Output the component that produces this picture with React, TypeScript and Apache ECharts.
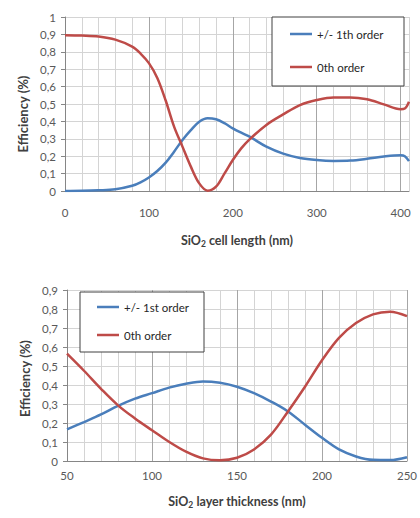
import React, { useEffect, useRef } from "react";
import * as echarts from "echarts";

// Top chart: SiO2 cell length (nm)
const topLength = [0, 20, 40, 60, 80, 90, 100, 110, 120, 130, 140, 150, 160, 170, 180, 190, 200, 210, 220, 240, 260, 280, 300, 320, 340, 360, 380, 400, 405, 410];
const topFirstOrder = [0, 0.001, 0.004, 0.01, 0.03, 0.05, 0.078, 0.115, 0.163, 0.226, 0.293, 0.35, 0.398, 0.418, 0.412, 0.39, 0.36, 0.335, 0.312, 0.255, 0.215, 0.19, 0.178, 0.173, 0.175, 0.185, 0.198, 0.205, 0.2, 0.172];
const topZeroOrder = [0.895, 0.893, 0.888, 0.87, 0.83, 0.79, 0.735, 0.65, 0.52, 0.37, 0.255, 0.14, 0.044, 0.002, 0.025, 0.1, 0.178, 0.245, 0.297, 0.38, 0.44, 0.494, 0.523, 0.538, 0.538, 0.527, 0.498, 0.47, 0.474, 0.513];

// Bottom chart: SiO2 layer thickness (nm)
const bottomThickness = [50, 60, 70, 80, 90, 100, 110, 120, 130, 140, 150, 160, 170, 180, 190, 200, 210, 220, 230, 240, 250];
const bottomFirstOrder = [0.166, 0.205, 0.245, 0.29, 0.328, 0.357, 0.386, 0.407, 0.419, 0.412, 0.391, 0.357, 0.313, 0.261, 0.191, 0.122, 0.061, 0.024, 0.006, 0.005, 0.02];
const bottomZeroOrder = [0.565, 0.475, 0.38, 0.293, 0.224, 0.162, 0.101, 0.049, 0.014, 0.004, 0.017, 0.061, 0.139, 0.261, 0.391, 0.53, 0.648, 0.726, 0.772, 0.786, 0.762];

const topLegend = ["+/- 1th order", "0th order"];
const bottomLegend = ["+/- 1st order", "0th order"];

const BLUE = "#4a7ebb";
const RED = "#be4b48";
const FONT = "Lato";
const MINOR = "#d4d4d4";
const MAJOR = "#a6a6a6";
const LEGEND_ICON = "path://M0,0 L22,0 L22,2.5 L0,2.5 Z";

const zip = (xs: number[], ys: number[]) => xs.map((x, i) => [x, ys[i]]);
const yFmt = (v: number) => (v === 0 ? "0" : v === 1 ? "1" : v.toFixed(1).replace(".", ","));

export default function App() {
  const ref = useRef<HTMLDivElement>(null);
  useEffect(() => {
    if (!ref.current) return;
    const chart = echarts.init(ref.current, null, { renderer: "svg" });
    const titleStyle = {
      fontFamily: FONT,
      fontWeight: "bold" as const,
      fontSize: 12.5,
      color: "#404040",
      rich: {
        sub: { fontFamily: FONT, fontWeight: "bold" as const, fontSize: 8.5, color: "#404040", verticalAlign: "bottom" as const, padding: [6, 0, 0, 0] },
      },
    };
    const labelStyle = { fontFamily: FONT, fontSize: 11.5, color: "#595959" };
    const xAxisCommon = (min: number, max: number, interval: number, major: number, margin: number, name: string, gap: number, gridIndex: number) => ({
      type: "value" as const,
      gridIndex,
      min,
      max,
      interval,
      name,
      nameLocation: "middle" as const,
      nameGap: gap,
      nameTextStyle: titleStyle,
      axisLine: { show: true, onZero: false, lineStyle: { color: "#868686", width: 1 } },
      axisTick: { show: false },
      axisLabel: {
        ...labelStyle,
        margin,
        showMaxLabel: true,
        formatter: (v: number) => (Math.abs(v % major) < 1e-6 ? String(v) : ""),
      },
      splitLine: {
        show: true,
        lineStyle: { color: [MAJOR, MINOR, MINOR, MINOR, MINOR], width: 1 },
      },
    });
    const yAxisCommon = (max: number, gap: number, gridIndex: number, pad: number[]) => ({
      type: "value" as const,
      gridIndex,
      min: 0,
      max,
      interval: 0.1,
      name: "Efficiency (%)",
      nameLocation: "middle" as const,
      nameGap: gap,
      nameTextStyle: { ...titleStyle, fontSize: 13, padding: pad },
      axisLine: { show: true, lineStyle: { color: "#868686", width: 1 } },
      axisTick: { show: true, length: 4, lineStyle: { color: "#868686" } },
      axisLabel: { ...labelStyle, margin: 9, formatter: yFmt },
      splitLine: { show: true, lineStyle: { color: MINOR, width: 1 } },
    });
    const lineSeries = (name: string, xs: number[], ys: number[], color: string, idx: number) => ({
      type: "line" as const,
      name,
      xAxisIndex: idx,
      yAxisIndex: idx,
      data: zip(xs, ys),
      smooth: 0.35,
      symbol: "none",
      lineStyle: { color, width: 2.5 },
      itemStyle: { color },
      z: 3,
    });
    const legendCommon = {
      orient: "vertical" as const,
      icon: LEGEND_ICON,
      itemWidth: 22,
      itemHeight: 14,
      padding: 0,
      textStyle: { fontFamily: FONT, fontSize: 11.5, color: "#262626" },
      z: 10,
    };
    chart.setOption({
      animation: false,
      backgroundColor: "#ffffff",
      grid: [
        { left: 65, right: 11, top: 17, bottom: 327, containLabel: false },
        { left: 67, right: 8, top: 290, bottom: 57, containLabel: false },
      ],
      xAxis: [
        xAxisCommon(0, 410, 20, 100, 15, "SiO{sub|2} cell length (nm)", 42, 0),
        xAxisCommon(50, 250, 10, 50, 8, "SiO{sub|2} layer thickness (nm)", 33, 1),
      ],
      yAxis: [yAxisCommon(1, 32, 0, [0, 20, 0, 0]), yAxisCommon(0.9, 36, 1, [0, 6, 0, 0])],
      legend: [
        { ...legendCommon, data: topLegend, left: 290, top: 28, itemGap: 21 },
        { ...legendCommon, data: bottomLegend, left: 97, top: 301, itemGap: 16 },
      ],
      graphic: [
        { type: "rect", z: 8, shape: { x: 272, y: 17, width: 132, height: 69 }, style: { fill: "#ffffff", stroke: "#404040", lineWidth: 1 } },
        { type: "rect", z: 8, shape: { x: 80, y: 292, width: 124, height: 60 }, style: { fill: "#ffffff", stroke: "#404040", lineWidth: 1 } },
      ],
      series: [
        lineSeries(topLegend[0], topLength, topFirstOrder, BLUE, 0),
        lineSeries(topLegend[1], topLength, topZeroOrder, RED, 0),
        lineSeries(bottomLegend[0], bottomThickness, bottomFirstOrder, BLUE, 1),
        lineSeries(bottomLegend[1], bottomThickness, bottomZeroOrder, RED, 1),
      ],
    });
    return () => chart.dispose();
  }, []);
  return <div ref={ref} style={{ position: "fixed", left: 0, top: 0, width: 420, height: 518 }} />;
}
